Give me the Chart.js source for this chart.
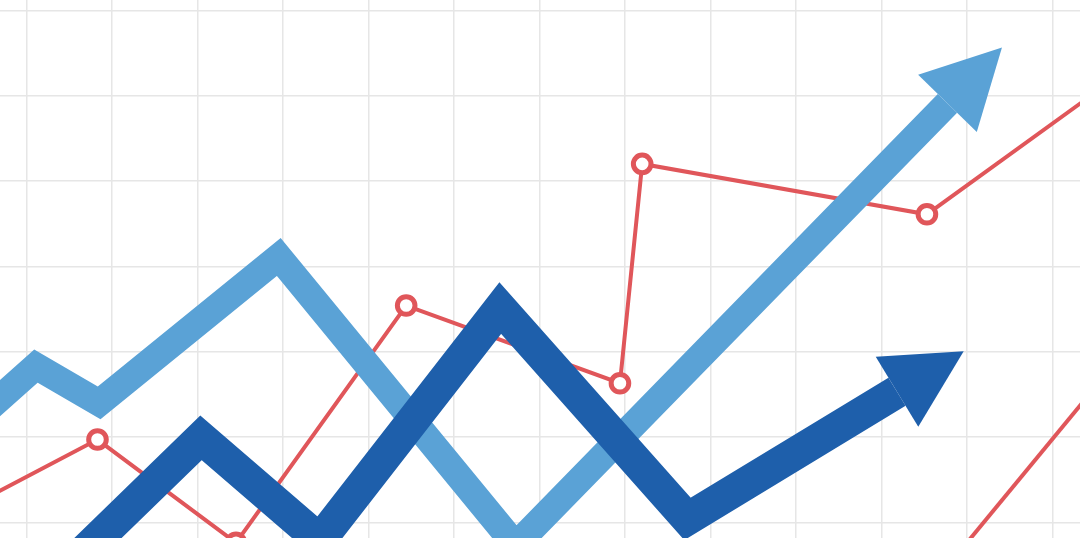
<!DOCTYPE html>
<html>
<head>
<meta charset="utf-8">
<title>Trend lines</title>
<script src="https://cdn.jsdelivr.net/npm/chart.js@4"></script>
<style>
    html, body { margin: 0; padding: 0; background: #ffffff; }
    #wrap { width: 1080px; height: 538px; }
</style>
</head>
<body>
<div id="wrap"><canvas id="trend-chart"></canvas></div>
<script>
    "use strict";

    // grid ticks (one per grid line)
    var xTicks = [0, 1, 2, 3, 4, 5, 6, 7, 8, 9, 10, 11, 12];
    var yTicks = [0, 1, 2, 3, 4, 5, 6];

    // red line with round markers
    var redX = [-0.54, 0.83, 2.45, 4.44, 6.94, 7.20, 10.53, 12.56];
    var redY = [0.25, 0.97, -0.24, 2.54, 1.63, 4.20, 3.61, 5.08];
    var redMarker = [0, 1, 1, 1, 1, 1, 1, 0];

    // second red segment, bottom right
    var red2X = [10.80, 12.56];
    var red2Y = [-0.48, 1.66];

    // light blue arrow
    var lightX = [-0.54, 0.11, 0.85, 2.95, 5.72, 10.77];
    var lightY = [1.25, 1.83, 1.40, 3.11, -0.27, 4.91];

    // dark blue arrow
    var darkX = [0.45, 2.04, 3.43, 5.54, 7.73, 10.18];
    var darkY = [-0.56, 0.99, -0.21, 2.51, 0.04, 1.53];

    function toPoints(xs, ys) {
        return xs.map(function (x, i) { return {x: x, y: ys[i]}; });
    }

    // Arrow heads on the last point of a dataset
    var arrowHeads = {
        id: "arrowHeads",
        afterDatasetDraw: function (chart, args) {
            var ds = chart.data.datasets[args.index];
            if (!ds.arrow) return;
            var pts = args.meta.data;
            var a = pts[pts.length - 2], b = pts[pts.length - 1];
            var dx = b.x - a.x, dy = b.y - a.y;
            var len = Math.sqrt(dx * dx + dy * dy);
            var ux = dx / len, uy = dy / len;
            var half = ds.arrow.width / 2;
            var ctx = chart.ctx;
            ctx.save();
            ctx.fillStyle = ds.borderColor;
            ctx.beginPath();
            ctx.moveTo(b.x + ux * ds.arrow.length, b.y + uy * ds.arrow.length);
            ctx.lineTo(b.x - uy * half, b.y + ux * half);
            ctx.lineTo(b.x + uy * half, b.y - ux * half);
            ctx.closePath();
            ctx.fill();
            ctx.restore();
        }
    };

    var markerRadius = redMarker.map(function (m) { return m ? 8.8 : 0; });

    var ctx1 = document.getElementById("trend-chart").getContext("2d");
    var trendChart = new Chart(ctx1, {
        type: "line",
        data: {
            datasets: [{
                label: "Dark",
                data: toPoints(darkX, darkY),
                borderColor: "#1e5fab",
                borderWidth: 33,
                pointRadius: 0,
                order: 1,
                arrow: {length: 78, width: 82}
            }, {
                label: "Light",
                data: toPoints(lightX, lightY),
                borderColor: "#5aa2d6",
                borderWidth: 27,
                pointRadius: 0,
                order: 2,
                arrow: {length: 78, width: 82}
            }, {
                label: "Red",
                data: toPoints(redX, redY),
                borderColor: "#e0565a",
                borderWidth: 4,
                pointRadius: markerRadius,
                pointBorderWidth: 5,
                pointBorderColor: "#e0565a",
                pointBackgroundColor: "#ffffff",
                order: 3
            }, {
                label: "Red 2",
                data: toPoints(red2X, red2Y),
                borderColor: "#e0565a",
                borderWidth: 4,
                pointRadius: 0,
                order: 3
            }]
        },
        options: {
            responsive: true,
            maintainAspectRatio: false,
            animation: false,
            layout: {padding: 0},
            elements: {
                line: {tension: 0, borderCapStyle: "butt", borderJoinStyle: "miter", fill: false}
            },
            plugins: {
                legend: {display: false},
                tooltip: {enabled: false}
            },
            scales: {
                x: {
                    type: "linear",
                    min: -0.31,
                    max: 12.32,
                    afterBuildTicks: function (scale) {
                        scale.ticks = xTicks.map(function (v) { return {value: v}; });
                    },
                    ticks: {display: false},
                    border: {display: false},
                    grid: {color: "#e6e6e6", lineWidth: 1.5, drawTicks: false}
                },
                y: {
                    type: "linear",
                    min: -0.184,
                    max: 6.121,
                    afterBuildTicks: function (scale) {
                        scale.ticks = yTicks.map(function (v) { return {value: v}; });
                    },
                    ticks: {display: false},
                    border: {display: false},
                    grid: {color: "#e6e6e6", lineWidth: 1.5, drawTicks: false}
                }
            }
        },
        plugins: [arrowHeads]
    });
</script>
</body>
</html>
